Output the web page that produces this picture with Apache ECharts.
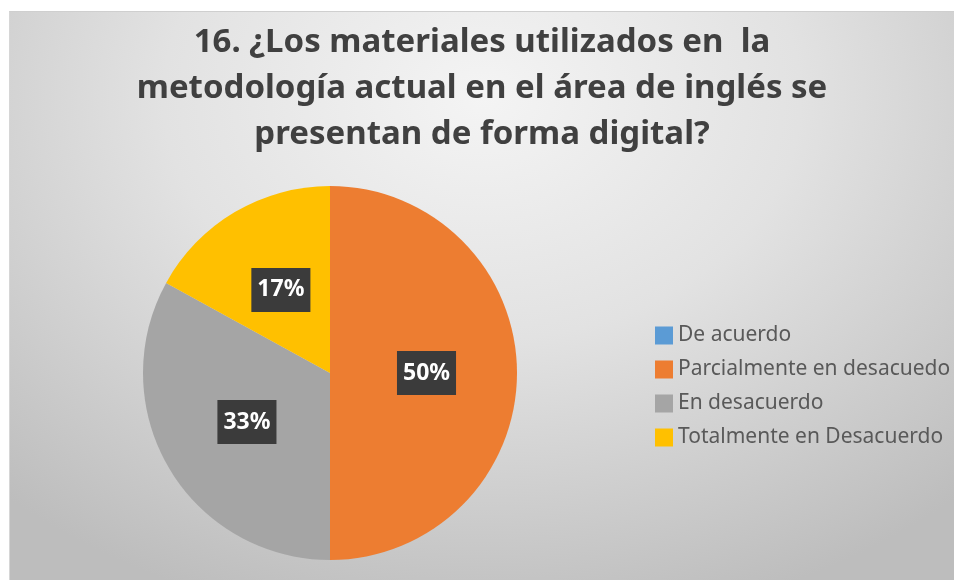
<!DOCTYPE html>
<html>
<head>
<meta charset="utf-8">
<script src="https://cdn.jsdelivr.net/npm/echarts@6/dist/echarts.min.js"></script>
<style>
  html, body { margin: 0; padding: 0; background: #fff; }
  #chart {
    position: absolute;
    left: 9px;
    top: 11px;
    width: 945px;
    height: 569px;
    background: radial-gradient(ellipse 75% 95% at 50% 15%, #f4f4f4 0%, #e2e2e2 45%, #bdbdbd 100%);
    border-top: 1px solid #cfcfcf;
    border-left: 1px solid #d6d6d6;
    box-sizing: border-box;
  }
</style>
</head>
<body>
<div id="chart"></div>
<script>
// datos de la pregunta 16
const titleText = '16. ¿Los materiales utilizados en  la\nmetodología actual en el área de inglés se\npresentan de forma digital?'
const categories = ['De acuerdo', 'Parcialmente en desacuedo', 'En desacuerdo', 'Totalmente en Desacuerdo']
const values = [0, 50, 33, 17]
const colors = ['#5b9bd5', '#ed7d31', '#a5a5a5', '#ffc000']

const chart = echarts.init(document.getElementById('chart'))

const option = {
  animation: false,
  backgroundColor: 'transparent',
  color: colors,
  title: {
    text: titleText,
    left: 'center',
    top: 8,
    padding: 0,
    textStyle: {
      fontFamily: '"Noto Sans", sans-serif',
      fontWeight: 'bold',
      fontSize: 33,
      lineHeight: 46,
      color: '#404040'
    }
  },
  legend: {
    orient: 'vertical',
    left: 640,
    top: 308,
    icon: 'rect',
    itemWidth: 18,
    itemHeight: 18,
    itemGap: 13,
    data: categories,
    textStyle: {
      fontFamily: '"Noto Sans", sans-serif',
      fontSize: 21,
      lineHeight: 18,
      color: '#595959'
    }
  },
  series: [{
    type: 'pie',
    center: [320, 361],
    radius: 187,
    startAngle: 90,
    clockwise: true,
    percentPrecision: 0,
    itemStyle: { borderWidth: 0 },
    emphasis: { disabled: true },
    label: {
      position: 'inside',
      formatter: '{d}%',
      color: '#fff',
      fontWeight: 'bold',
      fontSize: 23,
      fontFamily: '"Noto Sans", sans-serif',
      backgroundColor: '#3b3b3b',
      padding: [11, 6, 10, 6]
    },
    labelLine: { show: false },
    data: categories.map((name, i) => ({
      name,
      value: values[i],
      label: { show: values[i] > 0 }
    }))
  }]
}

chart.setOption(option)
</script>
</body>
</html>
